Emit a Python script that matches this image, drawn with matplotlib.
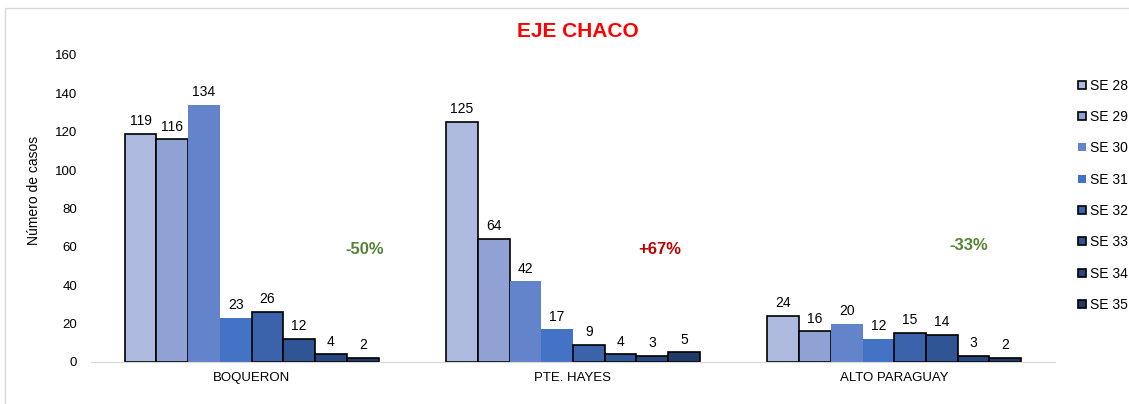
import numpy as np
import matplotlib.pyplot as plt
from matplotlib.patches import Rectangle

plt.rcParams['font.family'] = ['Liberation Sans', 'DejaVu Sans']

departamentos = ['BOQUERON', 'PTE. HAYES', 'ALTO PARAGUAY']
semanas = ['SE 28', 'SE 29', 'SE 30', 'SE 31', 'SE 32', 'SE 33', 'SE 34', 'SE 35']
casos = {
    'SE 28': [119, 125, 24],
    'SE 29': [116, 64, 16],
    'SE 30': [134, 42, 20],
    'SE 31': [23, 17, 12],
    'SE 32': [26, 9, 15],
    'SE 33': [12, 4, 14],
    'SE 34': [4, 3, 3],
    'SE 35': [2, 5, 2],
}
variacion = ['-50%', '+67%', '-33%']

colores = ['#adb9de', '#8fa2d3', '#6384ca', '#4472c4', '#3a63ab', '#305595', '#27477f', '#203a6a']
con_borde = [True, True, False, False, True, True, True, True]
var_colores = ['#548235', '#c00000', '#548235']
var_dx = [0.352, 0.271, 0.231]
var_y = [58.4, 58.4, 60.5]

fig = plt.figure(figsize=(11.29, 4.04), dpi=100)
ax = fig.add_axes([0.0806, 0.104, 0.8538, 0.760])

x = np.arange(len(departamentos))
ancho = 0.79 / len(semanas)
for i, se in enumerate(semanas):
    pos = x - 0.395 + ancho * (i + 0.5)
    bars = ax.bar(pos, casos[se], ancho, color=colores[i],
                  edgecolor='black' if con_borde[i] else colores[i],
                  linewidth=1.2 if con_borde[i] else 0, label=se)
    for b, v in zip(bars, casos[se]):
        ax.text(b.get_x() + b.get_width() / 2, v + 3, str(v),
                ha='center', va='bottom', fontsize=10)

for j, txt in enumerate(variacion):
    ax.text(x[j] + var_dx[j], var_y[j], txt, color=var_colores[j], fontsize=12,
            fontweight='bold', ha='center', va='center')

ax.set_xlim(-0.5, 2.5)
ax.set_ylim(0, 160)
ax.set_yticks(range(0, 161, 20))
ax.set_xticks(x)
ax.set_xticklabels(departamentos, fontsize=9.5)
ax.tick_params(axis='both', length=0, labelsize=9.5)
ax.tick_params(axis='y', pad=10)
ax.tick_params(axis='x', pad=7)
for s in ['top', 'right', 'left']:
    ax.spines[s].set_visible(False)
ax.spines['bottom'].set_color('#d9d9d9')
ax.set_ylabel('Número de casos', fontsize=10)
ax.yaxis.set_label_coords(-0.052, 0.56)

fig.text(0.512, 0.923, 'EJE CHACO', color='#ff0000', fontsize=15,
         fontweight='bold', ha='center', va='center')

fig.legend(loc='upper left', bbox_to_anchor=(1065 / 1129, 1 - 66 / 404),
           frameon=False, fontsize=10, handlelength=0.6, handleheight=0.5,
           handletextpad=0.3, labelspacing=1.25)

fig.patches.append(Rectangle((5 / 1129, -0.01), 1.1, 1 - 8 / 404 + 0.01,
                             transform=fig.transFigure, fill=False,
                             edgecolor='#d9d9d9', linewidth=1))

fig.savefig('out.png', dpi=100)
